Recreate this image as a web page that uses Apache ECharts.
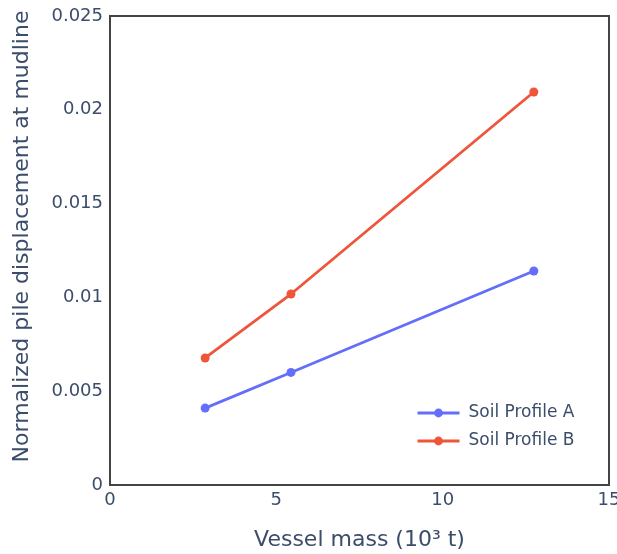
<!DOCTYPE html>
<html>
<head>
<meta charset="utf-8">
<script src="https://cdn.jsdelivr.net/npm/echarts@6/dist/echarts.min.js"></script>
<style>html,body{margin:0;padding:0;background:#fff}#chart{width:617px;height:554px}</style>
</head>
<body>
<div id="chart"></div>
<script>
const vesselMass = [2.86, 5.44, 12.74];
const profileA = [0.0041, 0.0060, 0.01141];
const profileB = [0.00677, 0.01018, 0.02095];
const seriesNames = ['Soil Profile A', 'Soil Profile B'];
const colors = ['#636efa', '#EF553B'];
const textColor = '#3b4d6b';
const font = 'DejaVu Sans';

const chart = echarts.init(document.getElementById('chart'));
const toPairs = (xs, ys) => xs.map((x, i) => [x, ys[i]]);
chart.setOption({
  animation: false,
  textStyle: {fontFamily: font},
  grid: {left: 110, right: 8, top: 16, bottom: 69, show: true, borderColor: '#444', borderWidth: 2,
         outerBoundsMode: 'none', containLabel: false},
  legend: {
    left: 416, top: 402, orient: 'vertical', itemGap: 6, padding: 0,
    itemWidth: 42, itemHeight: 11,
    lineStyle: {width: 3},
    textStyle: {color: textColor, fontSize: 17, fontFamily: font, lineHeight: 22, padding: [0, 0, 0, 4]},
    data: seriesNames
  },
  xAxis: {
    type: 'value', min: 0, max: 15, interval: 5,
    name: 'Vessel mass (10³ t)', nameLocation: 'middle', nameGap: 44,
    nameTextStyle: {color: textColor, fontSize: 22, fontFamily: font},
    axisLine: {show: false}, axisTick: {show: false}, splitLine: {show: false},
    axisLabel: {color: textColor, fontSize: 18, margin: 6, fontFamily: font}
  },
  yAxis: {
    type: 'value', min: 0, max: 0.025, interval: 0.005,
    name: 'Normalized pile displacement at mudline', nameLocation: 'middle', nameGap: 77,
    nameTextStyle: {color: textColor, fontSize: 22, fontFamily: font, padding: [0, 0, 0, 28]},
    axisLine: {show: false}, axisTick: {show: false}, splitLine: {show: false},
    axisLabel: {color: textColor, fontSize: 18, margin: 7, fontFamily: font,
      formatter: v => String(parseFloat(v.toFixed(4)))}
  },
  series: [
    {name: seriesNames[0], type: 'line', data: toPairs(vesselMass, profileA), color: colors[0],
     symbol: 'circle', symbolSize: 9, lineStyle: {width: 2.8}},
    {name: seriesNames[1], type: 'line', data: toPairs(vesselMass, profileB), color: colors[1],
     symbol: 'circle', symbolSize: 9, lineStyle: {width: 2.8}}
  ]
});
</script>
</body>
</html>
